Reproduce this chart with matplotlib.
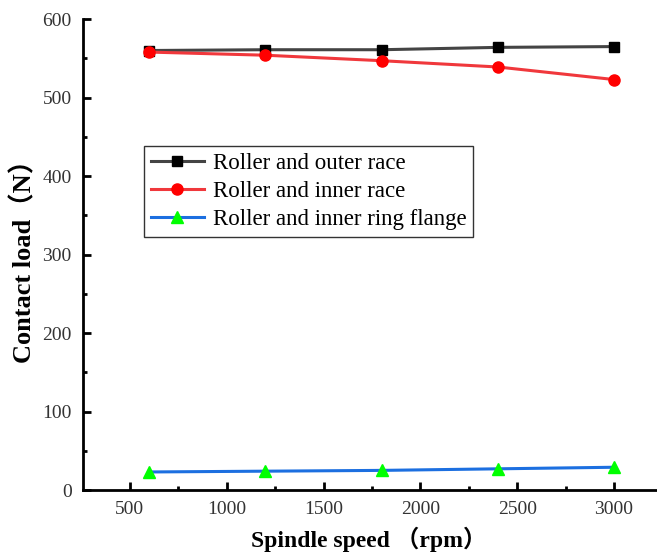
import matplotlib.pyplot as plt
from matplotlib.ticker import MultipleLocator

# spindle speed (rpm)
speed = [600, 1200, 1800, 2400, 3000]

# contact load (N)
outer_race = [560, 561, 561, 564, 565]
inner_race = [558, 554, 547, 539, 523]
ring_flange = [23, 24, 25, 27, 29]

labels = ["Roller and outer race", "Roller and inner race", "Roller and inner ring flange"]

serif = ["Liberation Serif", "Noto Sans CJK SC"]
plt.rcParams['font.family'] = serif

fig = plt.figure(figsize=(6.57, 5.54), dpi=100)
ax = fig.add_axes([0.126, 0.1155, 0.872, 0.85])

ax.plot(speed, outer_race, color="#444444", lw=2.2, marker="s", ms=7,
        mfc="black", mec="black", label=labels[0])
ax.plot(speed, inner_race, color="#f0383c", lw=2.2, marker="o", ms=8,
        mfc="#ff0000", mec="#ff0000", label=labels[1])
ax.plot(speed, ring_flange, color="#1c6fe0", lw=2.2, marker="^", ms=9,
        mfc="#00ff00", mec="#00ff00", label=labels[2])

ax.set_xlim(257, 3215)
ax.set_ylim(0, 600)
ax.xaxis.set_major_locator(MultipleLocator(500))
ax.xaxis.set_minor_locator(MultipleLocator(250))
ax.yaxis.set_major_locator(MultipleLocator(100))
ax.yaxis.set_minor_locator(MultipleLocator(50))

for side in ["top", "right"]:
    ax.spines[side].set_visible(False)
for side in ["left", "bottom"]:
    ax.spines[side].set_linewidth(2)

ax.tick_params(which="major", direction="in", length=6, width=2,
               labelsize=14, labelcolor="#333333", pad=8)
ax.tick_params(which="minor", direction="in", length=3, width=2)

ax.set_xlabel("Spindle speed （rpm）", fontsize=17, fontweight="bold", labelpad=6)
ax.set_ylabel("Contact load（N）", fontsize=19, fontweight="bold", labelpad=4)

leg = ax.legend(loc="upper left", bbox_to_anchor=(0.107, 0.73), fontsize=16.5,
                frameon=True, fancybox=False, edgecolor="black", borderaxespad=0,
                handlelength=2.3, handletextpad=0.4, labelspacing=0.3,
                borderpad=0.3)
leg.get_frame().set_linewidth(1)

fig.savefig("out.png", dpi=100)
